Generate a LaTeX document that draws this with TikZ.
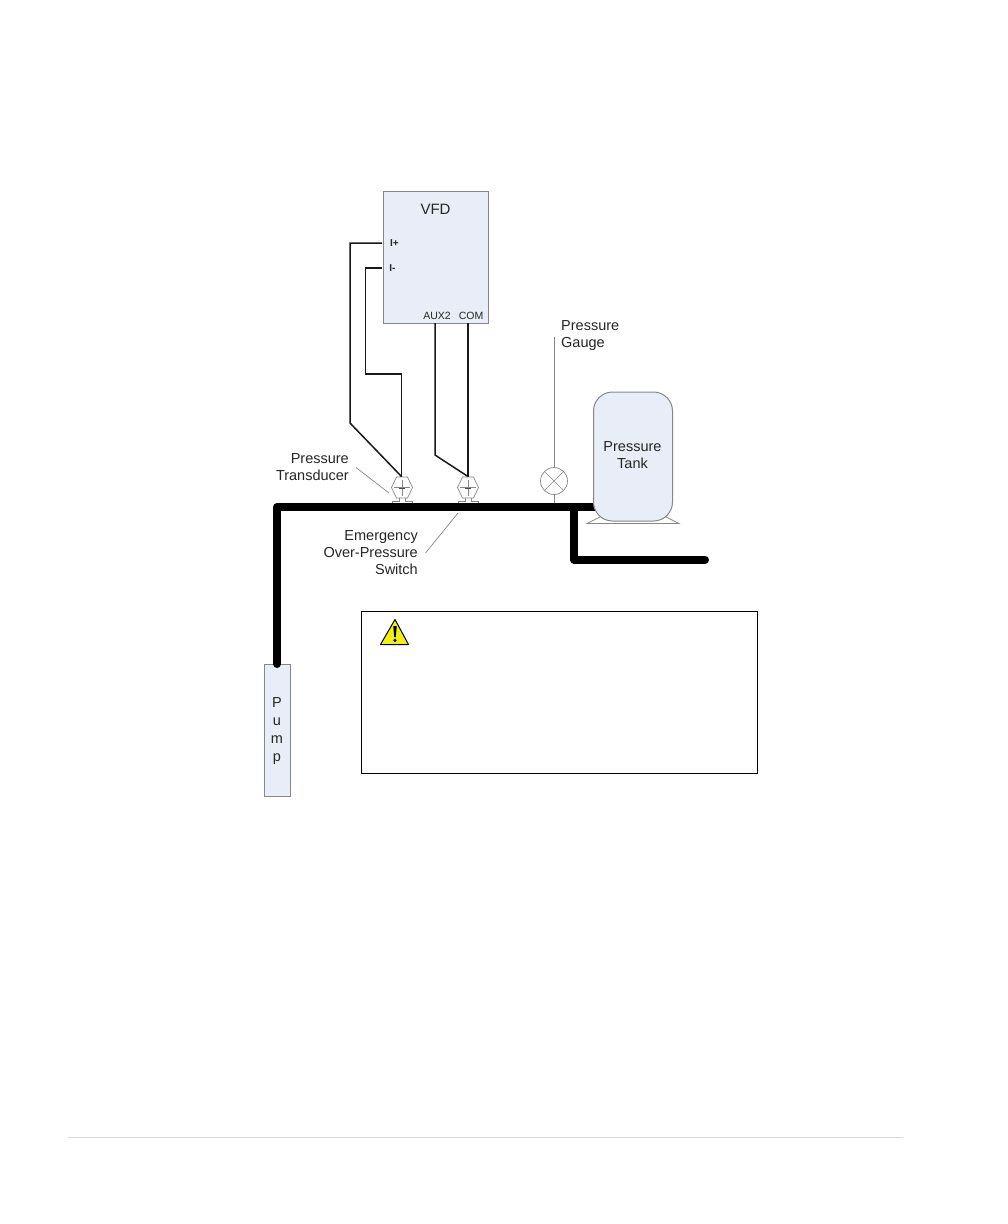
\documentclass[tikz,border=0pt]{standalone}
\usepackage{fontspec}
\setmainfont{Liberation Sans}
\usetikzlibrary{calc}
\definecolor{fillblue}{RGB}{232,237,247}
\definecolor{edgegray}{RGB}{135,135,135}
\definecolor{warnyellow}{RGB}{240,240,20}
\tikzset{
  lab/.style={font=\fontsize{14.5}{17.4}\selectfont, text=black!85, align=center, inner sep=0pt},
  small/.style={font=\fontsize{10.5}{12}\selectfont, text=black!85, inner sep=0pt},
  wire/.style={draw=black!90, line width=1.5pt},
  pipe/.style={draw=black, line width=8pt, line join=round, line cap=round},
  thin line/.style={draw=edgegray, line width=0.7pt},
  bluebox/.style={draw=edgegray, fill=fillblue, line width=1pt, minimum width=0pt, inner sep=0pt},
  point/.style={inner sep=0pt, minimum size=0pt}
}
\newcommand{\xducer}[2]{%
  \begin{scope}[shift={(#1,487.5)}]
    \draw[thin line,fill=white] (-10,15.5)--(-10,13.5)--(-3,13.5)--(-3,9)--(3,9)--(3,13.5)--(10,13.5)--(10,15.5);
    \draw[thin line,fill=white] (-10.5,0)--(-5.5,-10.5)--(5.5,-10.5)--(10.5,0)--(5.5,10.5)--(-5.5,10.5)--cycle;
    \draw[thin line,line width=0.4pt] (0,-8)--(0,8) (-8,0)--(8,0);
    \draw[black!70,line width=1pt] (-3,0.5)--(3,0.5);
  \end{scope}}
\begin{document}
\begin{tikzpicture}[x=1pt,y=-1pt]
\useasboundingbox (0,0) rectangle (1008,1224);
\fill[white] (0,0) rectangle (1008,1224);

% footer rule
\coordinate (footL) at (68,1137.5); \coordinate (footR) at (903,1137.5);
\draw[black!15,line width=0.8pt] (footL)--(footR);

% VFD
\node[bluebox,minimum width=105pt,minimum height=132pt,anchor=north west] (vfd) at (382.5,191) {};
\node[lab,font=\fontsize{15}{16}\selectfont] (vfdt) at (435.5,209.5) {VFD};
\node[small,font=\bfseries\fontsize{10}{12}\selectfont] (ip) at (394.5,243.5) {I+};
\node[small,font=\bfseries\fontsize{10}{12}\selectfont] (im) at (392.5,268.5) {I-};
\node[small] (aux) at (437,315.5) {AUX2};
\node[small] (com) at (471,315.5) {COM};

% junction coordinates
\coordinate (ta) at (401.5,476.5);
\coordinate (tb) at (468,476.5);
\coordinate (ipw) at (382,243);
\coordinate (imw) at (382,268);
\coordinate (auxw) at (435,323);
\coordinate (comw) at (468,323);

% sensors
\xducer{402}{}
\xducer{468}{}

% wires
\draw[wire,line join=miter] (ipw)--(350,243)--(350,423)--(ta);
\draw[wire] (imw)--(365.5,268)--(365.5,374)--(401.5,374)--(ta);
\draw[wire] (auxw)--(435,455)--(tb);
\draw[wire] (comw)--(tb);

% gauge
\node[circle,draw=edgegray,line width=0.7pt,fill=white,minimum size=27pt,inner sep=0pt] (gauge) at (554,481) {};
\draw[edgegray,line width=0.5pt] (gauge.45)--(gauge.225) (gauge.135)--(gauge.315);
\coordinate (gtop) at (554,337);
\coordinate (gbot) at (554,504);
\draw[thin line] (gtop)--(gauge.north);
\draw[thin line] (gauge.south)--(gbot);
\node[lab,align=left,anchor=west] (gl) at (561,335.5) {Pressure\\Gauge};

% tank feet
\coordinate (fl) at (587,523.5); \coordinate (fr) at (679,523.5);
\draw[edgegray,line width=0.7pt,fill=white] (fl)--(602,516)--(664,516)--(fr)--cycle;

% pipes
\coordinate (pumpTop) at (277,664);
\coordinate (corner) at (277,507);
\coordinate (tankIn) at (596,507);
\coordinate (teeTop) at (574,507);
\coordinate (teeCorner) at (574,559.5);
\coordinate (outEnd) at (705,559.5);

% pump
\node[bluebox,minimum width=26pt,minimum height=132pt,anchor=north west] (pump) at (264,664) {};
\node[lab,align=center] (pP) at (277,703) {P};
\node[lab] (pU) at (277,722) {u};
\node[lab] (pM) at (277,740) {m};
\node[lab] (pQ) at (277,759) {p};

\draw[pipe] (pumpTop)--(corner)--(tankIn);
\draw[pipe] (teeTop)--(teeCorner)--(outEnd);

% tank
\node[bluebox,rounded corners=19pt,minimum width=79pt,minimum height=129pt,anchor=north west] (tank) at (593,391.5) {};
\node[lab] (tl) at (632.5,455) {Pressure\\Tank};

% labels and leaders
\node[lab,align=right,anchor=east] (pt) at (349,467) {Pressure\\Transducer};
\coordinate (l1a) at (356,467.5); \coordinate (l1b) at (389,493);
\draw[thin line] (l1a)--(l1b);
\node[lab,align=right,anchor=east] (eo) at (418,552.5) {Emergency\\Over-Pressure\\Switch};
\coordinate (l2a) at (458,513); \coordinate (l2b) at (425.5,553);
\draw[thin line] (l2a)--(l2b);

% warning box
\node[draw=black,line width=1pt,minimum width=396pt,minimum height=162pt,anchor=north west,inner sep=0pt] (warn) at (361,611) {};
\draw[black,line width=1pt,fill=warnyellow,line join=round] (380.5,644.5)--(395,619.5)--(408.5,644.5)--cycle;
\fill[black] (393.3,626) -- (396.7,626) -- (395.8,637) -- (394.2,637) -- cycle;
\fill[black] (395,640.3) circle (1.7);
\end{tikzpicture}
\end{document}
